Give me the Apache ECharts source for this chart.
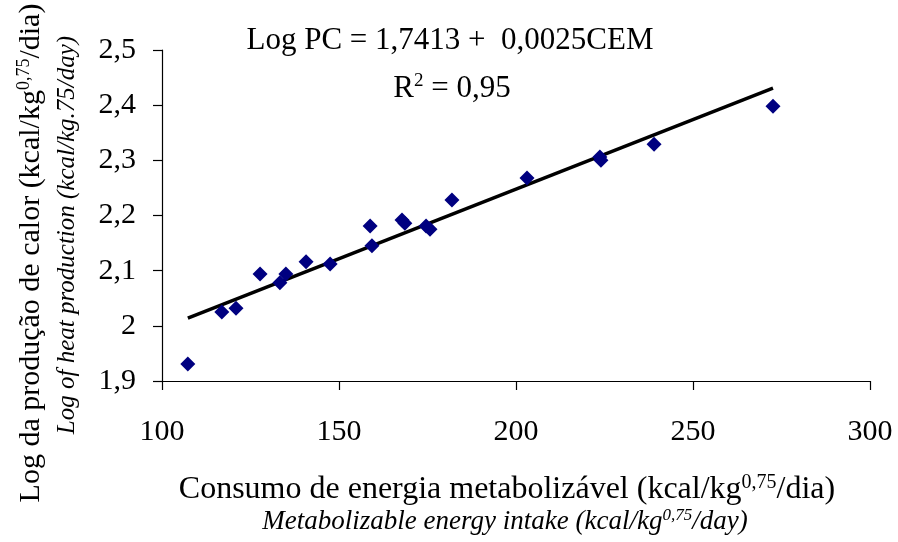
<!DOCTYPE html>
<html><head><meta charset="utf-8">
<script src="https://cdn.jsdelivr.net/npm/echarts@6/dist/echarts.min.js"></script>
<style>html,body{margin:0;padding:0;background:#fff}#c{width:898px;height:542px}</style>
</head><body><div id="c"></div>
<script>
const intakeME = [107.3,116.9,120.9,127.7,133.3,135.0,140.7,147.5,158.8,159.3,167.8,168.6,174.6,175.7,181.9,203.1,223.7,224.0,239.0,272.6];
const logHeat  = [1.931,2.025,2.032,2.094,2.078,2.094,2.116,2.112,2.181,2.145,2.192,2.186,2.181,2.175,2.228,2.268,2.306,2.300,2.329,2.398];
const trendX = [107.3, 272.6];
const trendY = [2.014, 2.431];
const xTicks = [100,150,200,250,300];
const yTicks = [1.9,2.0,2.1,2.2,2.3,2.4,2.5];

const FF = 'Liberation Serif';
const chart = echarts.init(document.getElementById('c'));
const pts = intakeME.map((x,i)=>[x, logHeat[i]]);
const line = trendX.map((x,i)=>[x, trendY[i]]);
const fmt = v => String(Math.round(v*10)/10).replace('.', ',');
chart.setOption({
  animation:false,
  backgroundColor:'#fff',
  grid:{left:162,right:28,top:50,bottom:161},
  xAxis:{type:'value',min:xTicks[0],max:xTicks[xTicks.length-1],interval:50,
    axisLine:{lineStyle:{color:'#000',width:1.2}},
    axisTick:{show:true,length:9,lineStyle:{color:'#000',width:1.2}},
    axisLabel:{color:'#000',fontFamily:FF,fontSize:30,margin:36},
    splitLine:{show:false}},
  yAxis:{type:'value',min:yTicks[0],max:yTicks[yTicks.length-1],interval:0.1,
    axisLine:{show:true,lineStyle:{color:'#000',width:1.2}},
    axisTick:{show:true,length:9,lineStyle:{color:'#000',width:1.2}},
    axisLabel:{color:'#000',fontFamily:FF,fontSize:30,margin:26,formatter:fmt},
    splitLine:{show:false}},
  series:[
    {type:'line',data:line,symbol:'none',lineStyle:{color:'#000',width:3.5},z:2},
    {type:'scatter',data:pts,symbol:'diamond',symbolSize:15,itemStyle:{color:'#000080',opacity:1},z:3}
  ],
  graphic:[
    {type:'text',style:{text:'Log PC = 1,7413 +  0,0025CEM',font:'31px "Liberation Serif"',fill:'#000',x:450,y:41,align:'center',verticalAlign:'middle'}},
    {type:'text',style:{text:'{n|R}{s|2}{n| = 0,95}',x:452,y:88,align:'center',verticalAlign:'middle',
      rich:{n:{fontFamily:FF,fontSize:31,fill:'#000',verticalAlign:'bottom'},s:{fontFamily:FF,fontSize:19,fill:'#000',verticalAlign:'top',padding:[0,0,14,0]}}}},
    {type:'text',style:{text:'{n|Consumo de energia metabolizável (kcal/kg}{s|0,75}{n|/dia)}',x:507,y:490,align:'center',verticalAlign:'middle',
      rich:{n:{fontFamily:FF,fontSize:32,color:'#000'},s:{fontFamily:FF,fontSize:20,color:'#000',padding:[0,0,14,0]}}}},
    {type:'text',style:{text:'{n|Metabolizable energy intake (kcal/kg}{s|0,75}{n|/day)}',x:505,y:522,align:'center',verticalAlign:'middle',
      rich:{n:{fontFamily:FF,fontStyle:'italic',fontSize:27,color:'#000'},s:{fontFamily:FF,fontStyle:'italic',fontSize:17,color:'#000',padding:[0,0,12,0]}}}},
    {type:'text',x:31,y:253,rotation:Math.PI/2,style:{text:'{n|Log da produção de calor (kcal/kg}{s|0,75}{n|/dia)}',align:'center',verticalAlign:'middle',
      rich:{n:{fontFamily:FF,fontSize:30,color:'#000'},s:{fontFamily:FF,fontSize:18,color:'#000',padding:[0,0,14,0]}}}},
    {type:'text',x:67,y:235,rotation:Math.PI/2,style:{text:'Log of heat production (kcal/kg.75/day)',align:'center',verticalAlign:'middle',
      font:'italic 25px "Liberation Serif"',fill:'#000'}}
  ]
});
</script></body></html>
